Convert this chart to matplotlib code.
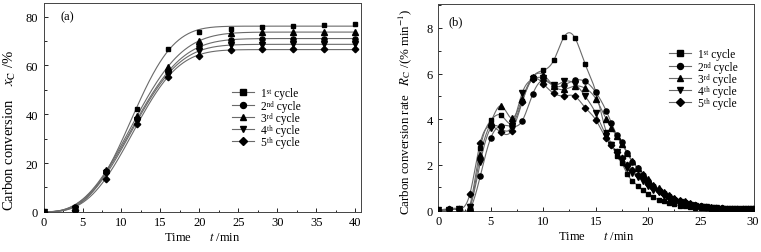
import numpy as np
import matplotlib
matplotlib.use("Agg")
import matplotlib.pyplot as plt
from matplotlib.ticker import MultipleLocator

plt.rcParams['font.family'] = ['Liberation Serif', 'DejaVu Serif']
plt.rcParams['mathtext.fontset'] = 'stix'
plt.rcParams['font.size'] = 8

# ---------------- data (a) ----------------
t_a = [0, 4, 8, 12, 16, 20, 24, 28, 32, 36, 40]
xa_1 = [0.0, 0.5, 16.9, 42.0, 66.7, 73.6, 75.1, 75.9, 76.3, 76.6, 76.9]
xa_2 = [0.0, 2.0, 16.5, 38.0, 57.5, 68.0, 70.3, 70.9, 70.9, 70.9, 70.9]
xa_3 = [0.0, 1.5, 17.0, 39.3, 59.5, 70.0, 73.3, 73.7, 73.8, 73.9, 73.9]
xa_4 = [0.0, 1.0, 15.8, 37.5, 56.7, 65.9, 68.2, 68.6, 68.7, 68.7, 68.7]
xa_5 = [0.0, 0.8, 13.6, 35.9, 55.2, 63.8, 66.5, 66.7, 66.7, 66.7, 66.7]

# ---------------- data (b) ----------------
t_b = [0, 1, 2, 3, 4, 5, 6, 7, 8, 9, 10, 11, 12, 13, 14, 15, 16,
       16.5, 17, 17.5, 18, 18.5, 19, 19.5, 20, 20.5, 21, 21.5, 22, 22.5,
       23, 23.5, 24, 24.5, 25, 25.5, 26, 26.5, 27, 27.5, 28, 28.5, 29, 29.5, 30]
rb_1 = [0, 0, 0.02, 0.2, 2.74, 3.94, 4.16, 3.80, 4.80, 5.85, 6.14, 6.58, 7.62, 7.58, 6.40, 5.20, 3.45,
        2.90, 2.38, 2.05, 1.58, 1.29, 1.07, 0.88, 0.70, 0.56, 0.46, 0.38, 0.31, 0.25,
        0.20, 0.16, 0.13, 0.11, 0.09, 0.08, 0.07, 0.06, 0.05, 0.05, 0.04, 0.04, 0.03, 0.03, 0.02]
rb_2 = [0, 0.05, 0.05, 0.05, 1.50, 3.17, 3.71, 3.68, 3.93, 5.10, 5.70, 5.45, 5.50, 5.70, 5.65, 5.18, 4.36,
        3.83, 3.32, 2.99, 2.52, 2.12, 1.84, 1.55, 1.28, 1.07, 0.90, 0.75, 0.61, 0.50,
        0.42, 0.35, 0.28, 0.22, 0.18, 0.14, 0.11, 0.09, 0.08, 0.07, 0.06, 0.05, 0.04, 0.04, 0.03]
rb_3 = [0, 0, 0.02, 0.10, 2.40, 3.85, 4.58, 4.04, 4.90, 5.85, 5.95, 5.45, 5.30, 5.45, 5.35, 4.90, 4.00,
        3.60, 3.25, 2.90, 2.50, 2.15, 1.85, 1.60, 1.35, 1.12, 0.95, 0.80, 0.65, 0.55,
        0.45, 0.38, 0.30, 0.24, 0.19, 0.15, 0.12, 0.10, 0.08, 0.07, 0.06, 0.05, 0.04, 0.04, 0.03]
rb_4 = [0, 0, 0.03, 0.15, 2.10, 3.60, 3.58, 3.68, 5.16, 5.75, 5.80, 5.50, 5.65, 5.55, 5.00, 4.26, 3.25,
        2.85, 2.55, 2.20, 1.85, 1.65, 1.45, 1.30, 1.05, 0.90, 0.78, 0.62, 0.50, 0.42,
        0.35, 0.29, 0.23, 0.19, 0.15, 0.12, 0.10, 0.08, 0.07, 0.06, 0.05, 0.04, 0.04, 0.03, 0.03]
rb_5 = [0, 0.05, 0.05, 0.70, 2.96, 3.68, 3.41, 3.49, 4.75, 5.75, 5.55, 5.13, 5.02, 5.00, 4.50, 3.97, 3.15,
        2.85, 2.55, 2.30, 2.00, 1.75, 1.55, 1.45, 1.15, 0.95, 0.85, 0.70, 0.58, 0.48,
        0.40, 0.33, 0.27, 0.22, 0.17, 0.14, 0.11, 0.09, 0.08, 0.07, 0.06, 0.05, 0.04, 0.04, 0.03]

labels = ["1\u02e2\u1d57 cycle", "2\u207f\u1d48 cycle", "3\u02b3\u1d48 cycle",
          "4\u1d57\u02b0 cycle", "5\u1d57\u02b0 cycle"]
markers = ['s', 'o', '^', 'v', 'D']
msizes = [3.4, 3.7, 3.9, 3.9, 3.3]


def avrami_fit(t, y):
    t = np.asarray(t, float)
    y = np.asarray(y, float)
    A = np.linspace(y.max() * 0.99, y.max() * 1.06, 30)[:, None, None, None]
    tau = np.linspace(8, 20, 90)[None, :, None, None]
    n = np.linspace(1.5, 4.0, 80)[None, None, :, None]
    pred = A * (1 - np.exp(-(t[None, None, None, :] / tau) ** n))
    sse = ((pred - y) ** 2).sum(-1)
    i, j, k = np.unravel_index(np.argmin(sse), sse.shape)
    return A.ravel()[i], tau.ravel()[j], n.ravel()[k]


def natural_spline(x, y, xs):
    x = np.asarray(x, float)
    y = np.asarray(y, float)
    n = len(x)
    h = np.diff(x)
    M = np.zeros((n, n))
    r = np.zeros(n)
    M[0, 0] = M[-1, -1] = 1
    for i in range(1, n - 1):
        M[i, i - 1] = h[i - 1]
        M[i, i] = 2 * (h[i - 1] + h[i])
        M[i, i + 1] = h[i]
        r[i] = 6 * ((y[i + 1] - y[i]) / h[i] - (y[i] - y[i - 1]) / h[i - 1])
    m = np.linalg.solve(M, r)
    idx = np.clip(np.searchsorted(x, xs) - 1, 0, n - 2)
    x0, x1 = x[idx], x[idx + 1]
    hh = x1 - x0
    a = (x1 - xs) / hh
    b = (xs - x0) / hh
    return (a * y[idx] + b * y[idx + 1]
            + ((a ** 3 - a) * m[idx] + (b ** 3 - b) * m[idx + 1]) * hh ** 2 / 6)


fig = plt.figure(figsize=(7.61, 2.53), dpi=100)
ax1 = fig.add_axes([0.0572, 0.157, 0.417, 0.826])
ax2 = fig.add_axes([0.576, 0.161, 0.415, 0.819])

line_col = '#6a6a6a'
leg_kw = dict(loc='upper left', frameon=False, fontsize=8.3, handlelength=1.9,
              handletextpad=0.6, labelspacing=0.02, borderpad=0, borderaxespad=0)

# ---------- panel (a) ----------
tt = np.linspace(0, 40, 400)
for ys, mk, ms, lab in zip([xa_1, xa_2, xa_3, xa_4, xa_5], markers, msizes, labels):
    A, tau, n = avrami_fit(t_a, ys)
    ax1.plot(tt, A * (1 - np.exp(-(tt / tau) ** n)), color=line_col, lw=0.8, zorder=2)
    ax1.plot(t_a, ys, linestyle='none', marker=mk, ms=ms, color='black', zorder=3)
    ax1.plot([], [], color=line_col, lw=0.8, marker=mk, ms=ms + 0.6,
             mfc='black', mec='black', label=lab)

ax1.set_xlim(0, 40.7)
ax1.set_ylim(-0.2, 85.5)
ax1.xaxis.set_major_locator(MultipleLocator(5))
ax1.xaxis.set_minor_locator(MultipleLocator(2.5))
ax1.yaxis.set_major_locator(MultipleLocator(20))
ax1.yaxis.set_minor_locator(MultipleLocator(10))
ax1.set_xlabel("Time      $t$ /min", fontsize=9, labelpad=2)
ax1.set_ylabel("Carbon conversion    $x_{\\rm C}$ /%", fontsize=10.5)
ax1.yaxis.set_label_coords(-0.08, 0.395)
ax1.text(0.052, 0.94, "(a)", transform=ax1.transAxes, fontsize=9, va='center')
ax1.legend(bbox_to_anchor=(0.594, 0.598), **leg_kw)

# ---------- panel (b) ----------
ts = np.linspace(0, 30, 1200)
for ys, mk, ms, lab in zip([rb_1, rb_2, rb_3, rb_4, rb_5], markers, msizes, labels):
    ax2.plot(ts, natural_spline(t_b, ys, ts), color=line_col, lw=0.8, zorder=2)
    ax2.plot(t_b, ys, linestyle='none', marker=mk, ms=ms, color='black', zorder=3)
    ax2.plot([], [], color=line_col, lw=0.8, marker=mk, ms=ms + 0.6,
             mfc='black', mec='black', label=lab)

ax2.set_xlim(0, 30.1)
ax2.set_ylim(-0.05, 9.05)
ax2.xaxis.set_major_locator(MultipleLocator(5))
ax2.xaxis.set_minor_locator(MultipleLocator(2.5))
ax2.yaxis.set_major_locator(MultipleLocator(2))
ax2.yaxis.set_minor_locator(MultipleLocator(1))
ax2.set_xlabel("Time      $t$ /min", fontsize=9, labelpad=2)
ax2.set_ylabel("Carbon conversion rate   $R_{\\rm C}$ /(% min$^{-1}$)", fontsize=9.3)
ax2.yaxis.set_label_coords(-0.078, 0.484)
ax2.text(0.032, 0.915, "(b)", transform=ax2.transAxes, fontsize=9, va='center')
ax2.legend(bbox_to_anchor=(0.731, 0.786), **leg_kw)

for ax in (ax1, ax2):
    ax.tick_params(which='both', direction='in', labelsize=9, top=False, right=False, width=0.6)
    ax.tick_params(axis='y', pad=4)
    ax.tick_params(axis='x', pad=2.5)
    ax.tick_params(which='major', length=3)
    ax.tick_params(which='minor', length=1.8)
    for s in ax.spines.values():
        s.set_linewidth(0.7)
        s.set_color('#444444')

fig.savefig("out.png", dpi=100)
